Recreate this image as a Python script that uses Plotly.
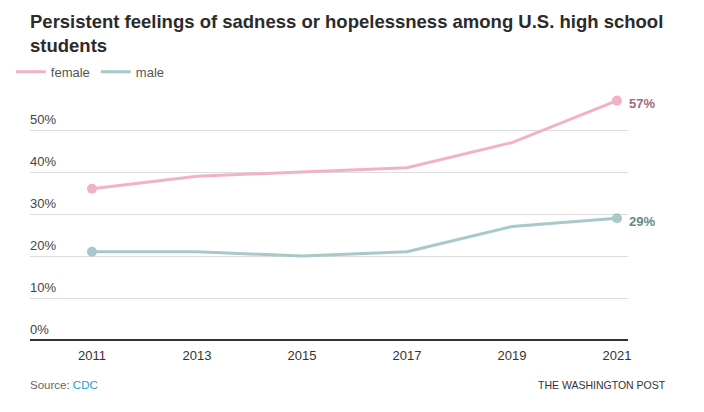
import plotly.graph_objects as go

# Data
years = [2011, 2013, 2015, 2017, 2019, 2021]
female = [36, 39, 40, 41, 47, 57]
male = [21, 21, 20, 21, 27, 29]
y_ticks = [0, 10, 20, 30, 40, 50]

pink = "#f1b3c2"
teal = "#a8c8c9"
pink_label = "#a5677b"
teal_label = "#66878a"

fig = go.Figure()

for name, vals, col, lab_col in [("female", female, pink, pink_label),
                                 ("male", male, teal, teal_label)]:
    fig.add_trace(go.Scatter(
        x=years, y=vals, name=name, mode="lines",
        line=dict(color=col, width=3),
        hoverinfo="skip"))
    # end-point dots
    fig.add_trace(go.Scatter(
        x=[years[0], years[-1]], y=[vals[0], vals[-1]], mode="markers",
        marker=dict(color=col, size=10), showlegend=False, hoverinfo="skip"))
    fig.add_annotation(x=years[-1], y=vals[-1], text=f"<b>{vals[-1]}%</b>",
                       showarrow=False, xanchor="left", xshift=10, yshift=-3,
                       font=dict(size=13, color=lab_col))

# y tick labels sit above the gridlines, left aligned
for t in y_ticks:
    fig.add_annotation(x=0, xref="paper", y=t, text=f"{t}%", showarrow=False,
                       xanchor="left", yanchor="bottom", yshift=1, xshift=-2,
                       font=dict(size=13, color="#444"))

# plot area is 252px tall, so paper y = offset_px / 252
fig.add_annotation(x=0, xref="paper", y=1.312, yref="paper", yanchor="top",
                   xanchor="left", showarrow=False, align="left", xshift=-2,
                   text="<b>Persistent feelings of sadness or hopelessness among U.S. high school<br>students</b>",
                   font=dict(size=18.5, color="#2b2b2b", family="Liberation Sans, Arial, sans-serif"))

fig.add_annotation(x=0, xref="paper", y=-0.179, yref="paper", yanchor="middle",
                   xanchor="left", showarrow=False, xshift=-2,
                   text="Source: <span style='color:#1e9ad6'>CDC</span>",
                   font=dict(size=11.5, color="#666"))
fig.add_annotation(x=1.067, xref="paper", y=-0.179, yref="paper", yanchor="middle",
                   xanchor="right", showarrow=False,
                   text="THE WASHINGTON POST",
                   font=dict(size=10.5, color="#333"))

fig.update_layout(
    width=704, height=412,
    margin=dict(l=22, r=84, t=80, b=80, autoexpand=False),
    plot_bgcolor="white", paper_bgcolor="white",
    font=dict(family="Liberation Sans, Arial, sans-serif", color="#333"),
    showlegend=True,
    legend=dict(orientation="h", x=0.004, xref="container", xanchor="left",
                y=0.845, yref="container", yanchor="middle", itemwidth=30,
                entrywidth=40,
                font=dict(size=13, color="#555"), traceorder="normal"),
)

fig.update_xaxes(range=[2009.82, 2021.21], tickvals=years, ticks="",
                 showgrid=False, zeroline=False, showline=False,
                 ticklabelstandoff=6,
                 tickfont=dict(size=13, color="#333"))
fig.update_yaxes(range=[0, 60], tickvals=y_ticks, showticklabels=False,
                 showgrid=True, gridcolor="#dddddd", gridwidth=1,
                 zeroline=True, zerolinecolor="#333", zerolinewidth=1.5,
                 showline=False)

fig.write_html("out.html")
